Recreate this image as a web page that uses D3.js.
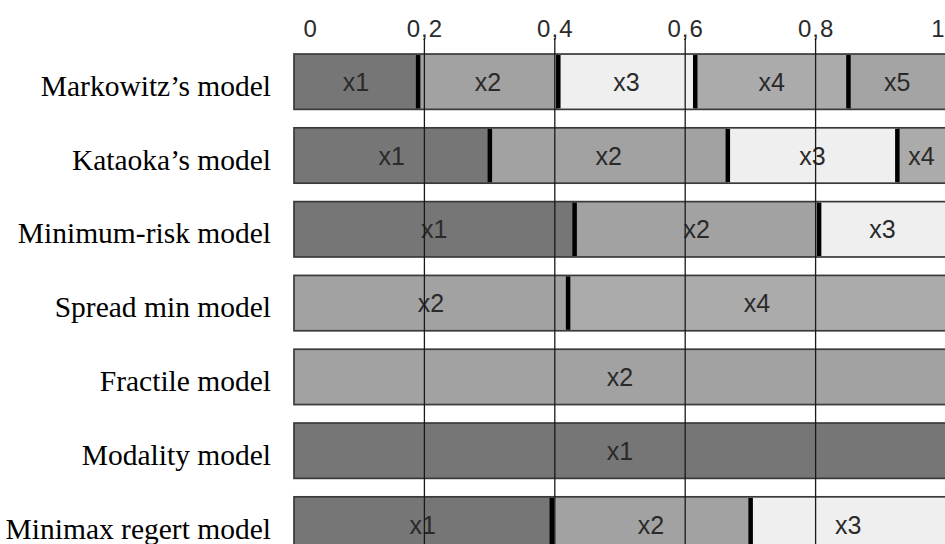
<!DOCTYPE html>
<html>
<head>
<meta charset="utf-8">
<script src="https://cdn.jsdelivr.net/npm/d3@7"></script>
<style>
  html, body { margin: 0; padding: 0; background: #ffffff; }
  svg { display: block; }
</style>
</head>
<body>
<svg id="chart" width="945" height="544"></svg>
<script>
// ---- data ----
const models = [
  "Markowitz’s model",
  "Kataoka’s model",
  "Minimum-risk model",
  "Spread min model",
  "Fractile model",
  "Modality model",
  "Minimax regert model"
];
const segAssets = [
  ["x1", "x2", "x3", "x4", "x5"],
  ["x1", "x2", "x3", "x4"],
  ["x1", "x2", "x3"],
  ["x2", "x4"],
  ["x2"],
  ["x1"],
  ["x1", "x2", "x3"]
];
const segShares = [
  [0.19, 0.215, 0.21, 0.235, 0.15],
  [0.30, 0.365, 0.26, 0.075],
  [0.43, 0.375, 0.195],
  [0.42, 0.58],
  [1.0],
  [1.0],
  [0.395, 0.305, 0.30]
];
const tickValues = [0, 0.2, 0.4, 0.6, 0.8, 1];
const tickLabels = ["0", "0,2", "0,4", "0,6", "0,8", "1"];
const gridValues = [0.2, 0.4, 0.6, 0.8];
const assetNames = ["x1", "x2", "x3", "x4", "x5"];
const assetColors = ["#767676", "#a2a2a2", "#efefef", "#ababab", "#a4a4a4"];

// ---- layout ----
const W = 945, H = 544;
const svg = d3.select("#chart");

const x = d3.scaleLinear().domain([0, 1]).range([294, 946]);
const y = d3.scaleBand().domain(models).range([44.8, 561.4])
  .paddingInner(0.25).paddingOuter(0.125);
const color = d3.scaleOrdinal().domain(assetNames).range(assetColors);

// build stacked segments
const rows = models.map((m, i) => {
  let acc = 0;
  const segs = segAssets[i].map((a, j) => {
    const s = { model: m, asset: a, x0: acc, x1: acc + segShares[i][j], first: j === 0 };
    acc += segShares[i][j];
    return s;
  });
  return { model: m, segs };
});

const rowG = svg.selectAll("g.row").data(rows).join("g").attr("class", "row");

// segment fills
rowG.selectAll("rect.seg").data(d => d.segs).join("rect")
  .attr("class", "seg")
  .attr("x", d => x(d.x0))
  .attr("y", d => y(d.model))
  .attr("width", d => x(d.x1) - x(d.x0))
  .attr("height", y.bandwidth())
  .attr("fill", d => color(d.asset));

// bar outline
rowG.append("rect")
  .attr("x", x(0))
  .attr("y", d => y(d.model))
  .attr("width", x(1) - x(0))
  .attr("height", y.bandwidth())
  .attr("fill", "none")
  .attr("stroke", "#3a3a3a")
  .attr("stroke-width", 1.7);

// black separators between segments
rowG.selectAll("rect.sep").data(d => d.segs.filter(s => !s.first)).join("rect")
  .attr("class", "sep")
  .attr("x", d => x(d.x0) - 2)
  .attr("y", d => y(d.model) + 1)
  .attr("width", 4.5)
  .attr("height", y.bandwidth() - 2)
  .attr("fill", "#000");

// segment labels
rowG.selectAll("text.seglab").data(d => d.segs).join("text")
  .attr("class", "seglab")
  .attr("x", d => (x(d.x0) + x(Math.min(d.x1, 1))) / 2)
  .attr("y", d => y(d.model) + y.bandwidth() / 2)
  .attr("dy", "0.36em")
  .attr("text-anchor", "middle")
  .attr("font-family", "'Liberation Sans', Arial, sans-serif")
  .attr("font-size", 25)
  .attr("fill", "#2a2a2a")
  .text(d => d.asset);

// model names on the left
svg.selectAll("text.model").data(models).join("text")
  .attr("class", "model")
  .attr("x", 271)
  .attr("y", d => y(d) + y.bandwidth() / 2 + 14)
  .attr("text-anchor", "end")
  .attr("font-family", "'Liberation Serif', 'Times New Roman', serif")
  .attr("font-size", 29.5)
  .attr("fill", "#000")
  .text(d => d);

// top axis
const axis = d3.axisTop(x).tickValues(tickValues)
  .tickFormat((d, i) => tickLabels[i]).tickSize(0).tickPadding(0);
const axG = svg.append("g").attr("transform", "translate(0,37)").call(axis);
axG.select(".domain").remove();
const lastTick = tickValues.length - 1;
axG.selectAll("text")
  .attr("font-family", "'Liberation Sans', Arial, sans-serif")
  .attr("font-size", 24)
  .attr("letter-spacing", "1px")
  .attr("fill", "#2a2a2a")
  .attr("text-anchor", (d, i) => i === 0 ? "start" : (i === lastTick ? "end" : "middle"))
  .attr("dx", (d, i) => i === 0 ? 9 : (i === lastTick ? -1 : 0));

// vertical reference lines on top
svg.selectAll("line.grid").data(gridValues).join("line")
  .attr("class", "grid")
  .attr("x1", d => x(d)).attr("x2", d => x(d))
  .attr("y1", 38).attr("y2", H)
  .attr("stroke", "#1a1a1a")
  .attr("stroke-width", 1.3);
</script>
</body>
</html>
